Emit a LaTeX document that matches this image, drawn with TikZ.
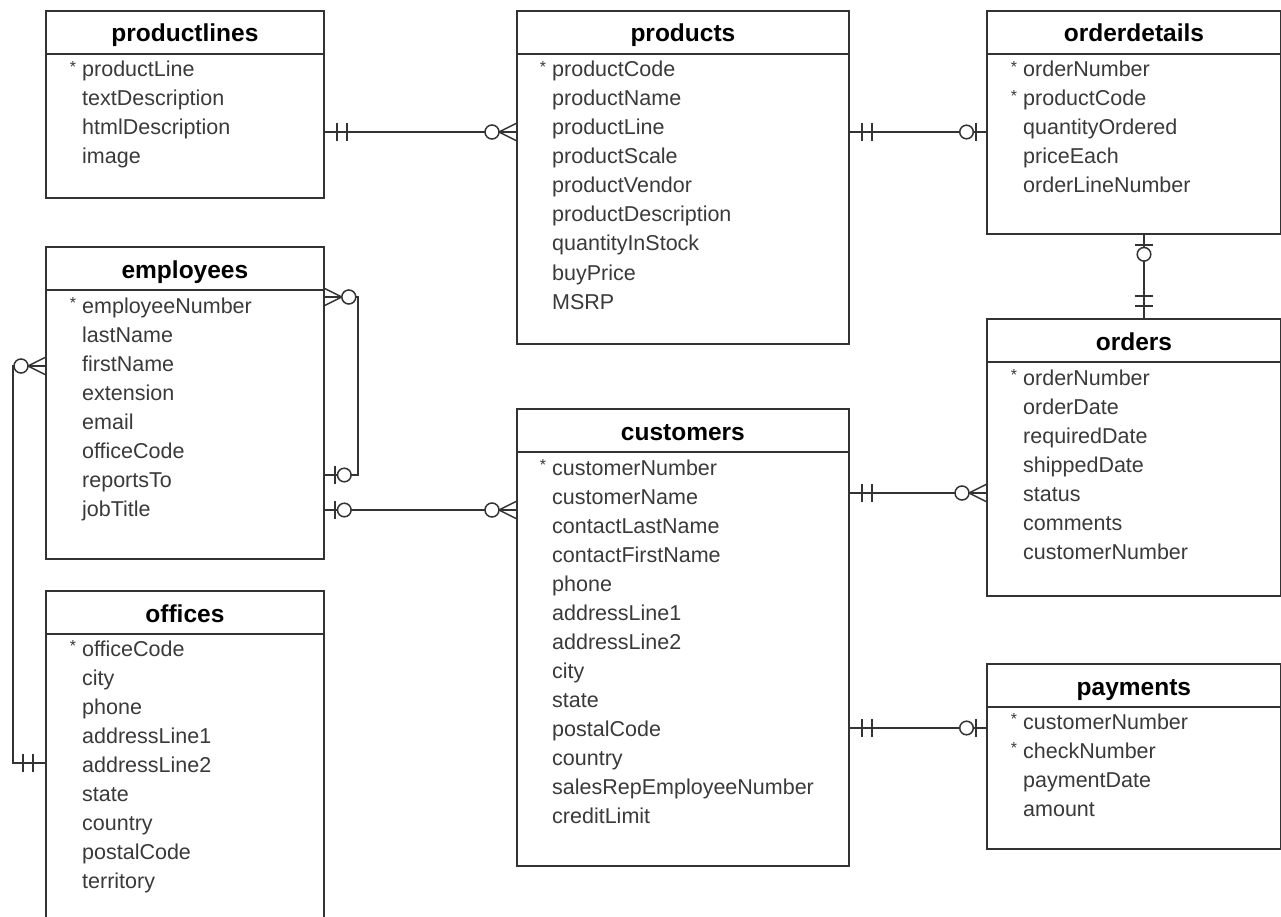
\documentclass[tikz,border=0pt]{standalone}
\usepackage{fontspec}
\setmainfont{Liberation Sans}
\usetikzlibrary{calc}

\definecolor{erline}{HTML}{333333}
\definecolor{ertext}{HTML}{3A3A3A}
\newcommand{\pk}{\llap{\raisebox{4.5pt}{\fontsize{16}{16}\selectfont *}\hspace{6pt}}}

\tikzset{
  tablebox/.style 2 args={draw=erline, line width=1.8pt, anchor=north west,
    minimum width=#1, minimum height=#2, inner sep=0pt},
  tabletitle/.style={anchor=base, inner sep=0pt, font=\fontsize{24.5}{28}\selectfont\bfseries},
  tablerow/.style={anchor=base west, inner sep=0pt, text=ertext, font=\fontsize{21.5}{26}\selectfont},
  rel/.style={draw=erline, line width=1.5pt},
  % crow's foot ends, x axis points away from the table
  pics/mandone/.style={code={\draw[rel] (12,-9) -- (12,9) (22,-9) -- (22,9);}},
  pics/zeroone/.style={code={\draw[rel] (10,-9) -- (10,9);
      \draw[rel, fill=white] (19.5,0) circle (6.8pt);}},
  pics/zeromany/.style={code={\draw[rel] (0,-8.5) -- (17,0) -- (0,8.5);
      \draw[rel, fill=white] (24,0) circle (7pt);}},
}

\begin{document}
\begin{tikzpicture}[x=1pt, y=-1pt]
    \fill[white] (0,0) rectangle (1281,917);
    \clip (0,0) rectangle (1281,917);

    % productlines
    \node[tablebox={278}{187}] (productlines) at (45,10) {};
    \draw[tablebox={0}{0}] ([yshift=-44pt]productlines.north west) -- ([yshift=-44pt]productlines.north east);
    \node[tabletitle] (productlines-t) at ($(productlines.north)+(0,32)$) {productlines};
    \foreach \f [count=\i] in {\pk productLine, textDescription, htmlDescription, image}
        \node[tablerow] (productlines-\i) at ($(productlines.north west)+(37,38+29*\i)$) {\f};

    % products
    \node[tablebox={332}{333}] (products) at (516,10) {};
    \draw[tablebox={0}{0}] ([yshift=-44pt]products.north west) -- ([yshift=-44pt]products.north east);
    \node[tabletitle] (products-t) at ($(products.north)+(0,32)$) {products};
    \foreach \f [count=\i] in {\pk productCode, productName, productLine, productScale, productVendor,
        productDescription, quantityInStock, buyPrice, MSRP}
        \node[tablerow] (products-\i) at ($(products.north west)+(36,38+29*\i)$) {\f};

    % orderdetails
    \node[tablebox={294}{223}] (orderdetails) at (986,10) {};
    \draw[tablebox={0}{0}] ([yshift=-44pt]orderdetails.north west) -- ([yshift=-44pt]orderdetails.north east);
    \node[tabletitle] (orderdetails-t) at ($(orderdetails.north)+(0,32)$) {orderdetails};
    \foreach \f [count=\i] in {\pk orderNumber, \pk productCode, quantityOrdered, priceEach, orderLineNumber}
        \node[tablerow] (orderdetails-\i) at ($(orderdetails.north west)+(37,38+29*\i)$) {\f};

    % employees
    \node[tablebox={278}{312}] (employees) at (45,246) {};
    \draw[tablebox={0}{0}] ([yshift=-44pt]employees.north west) -- ([yshift=-44pt]employees.north east);
    \node[tabletitle] (employees-t) at ($(employees.north)+(0,32)$) {employees};
    \foreach \f [count=\i] in {\pk employeeNumber, lastName, firstName, extension, email, officeCode,
        reportsTo, jobTitle}
        \node[tablerow] (employees-\i) at ($(employees.north west)+(37,38+29*\i)$) {\f};

    % offices
    \node[tablebox={278}{370}] (offices) at (45,590) {};
    \draw[tablebox={0}{0}] ([yshift=-44pt]offices.north west) -- ([yshift=-44pt]offices.north east);
    \node[tabletitle] (offices-t) at ($(offices.north)+(0,32)$) {offices};
    \foreach \f [count=\i] in {\pk officeCode, city, phone, addressLine1, addressLine2, state, country,
        postalCode, territory}
        \node[tablerow] (offices-\i) at ($(offices.north west)+(37,37+29*\i)$) {\f};

    % customers
    \node[tablebox={332}{457}] (customers) at (516,408) {};
    \draw[tablebox={0}{0}] ([yshift=-44pt]customers.north west) -- ([yshift=-44pt]customers.north east);
    \node[tabletitle] (customers-t) at ($(customers.north)+(0,32)$) {customers};
    \foreach \f [count=\i] in {\pk customerNumber, customerName, contactLastName, contactFirstName, phone,
        addressLine1, addressLine2, city, state, postalCode, country, salesRepEmployeeNumber, creditLimit}
        \node[tablerow] (customers-\i) at ($(customers.north west)+(36,38+29*\i)$) {\f};

    % orders
    \node[tablebox={294}{277}] (orders) at (986,318) {};
    \draw[tablebox={0}{0}] ([yshift=-44pt]orders.north west) -- ([yshift=-44pt]orders.north east);
    \node[tabletitle] (orders-t) at ($(orders.north)+(0,32)$) {orders};
    \foreach \f [count=\i] in {\pk orderNumber, orderDate, requiredDate, shippedDate, status, comments,
        customerNumber}
        \node[tablerow] (orders-\i) at ($(orders.north west)+(37,38+29*\i)$) {\f};

    % payments
    \node[tablebox={294}{185}] (payments) at (986,663) {};
    \draw[tablebox={0}{0}] ([yshift=-44pt]payments.north west) -- ([yshift=-44pt]payments.north east);
    \node[tabletitle] (payments-t) at ($(payments.north)+(0,32)$) {payments};
    \foreach \f [count=\i] in {\pk customerNumber, \pk checkNumber, paymentDate, amount}
        \node[tablerow] (payments-\i) at ($(payments.north west)+(37,37+29*\i)$) {\f};

    % relationships
    \coordinate (selfbend) at (358,400);
    \coordinate (officebend) at (13,560);

    \draw[rel] (productlines.east |- 0,132) -- (products.west |- 0,132);
    \draw[rel] (products.east |- 0,132) -- (orderdetails.west |- 0,132);
    \draw[rel] (orderdetails.south -| 1144,0) -- (orders.north -| 1144,0);
    \draw[rel] (customers.east |- 0,493) -- (orders.west |- 0,493);
    \draw[rel] (customers.east |- 0,728) -- (payments.west |- 0,728);
    \draw[rel] (employees.east |- 0,510) -- (customers.west |- 0,510);
    \draw[rel] (employees.east |- 0,297) -| (selfbend) |- (employees.east |- 0,475);
    \draw[rel] (employees.west |- 0,366) -| (officebend) |- (offices.west |- 0,763);

    \pic at (productlines.east |- 0,132) {mandone};
    \pic[rotate=180] at (products.west |- 0,132) {zeromany};
    \pic at (products.east |- 0,132) {mandone};
    \pic[rotate=180] at (orderdetails.west |- 0,132) {zeroone};
    \pic[rotate=-90] at (orderdetails.south -| 1144,0) {zeroone};
    \pic[rotate=90] at (orders.north -| 1144,0) {mandone};
    \pic at (customers.east |- 0,493) {mandone};
    \pic[rotate=180] at (orders.west |- 0,493) {zeromany};
    \pic at (customers.east |- 0,728) {mandone};
    \pic[rotate=180] at (payments.west |- 0,728) {zeroone};
    \pic at (employees.east |- 0,510) {zeroone};
    \pic[rotate=180] at (customers.west |- 0,510) {zeromany};
    \pic at (employees.east |- 0,297) {zeromany};
    \pic at (employees.east |- 0,475) {zeroone};
    \pic[rotate=180] at (employees.west |- 0,366) {zeromany};
    \pic[rotate=180] at (offices.west |- 0,763) {mandone};
\end{tikzpicture}
\end{document}
